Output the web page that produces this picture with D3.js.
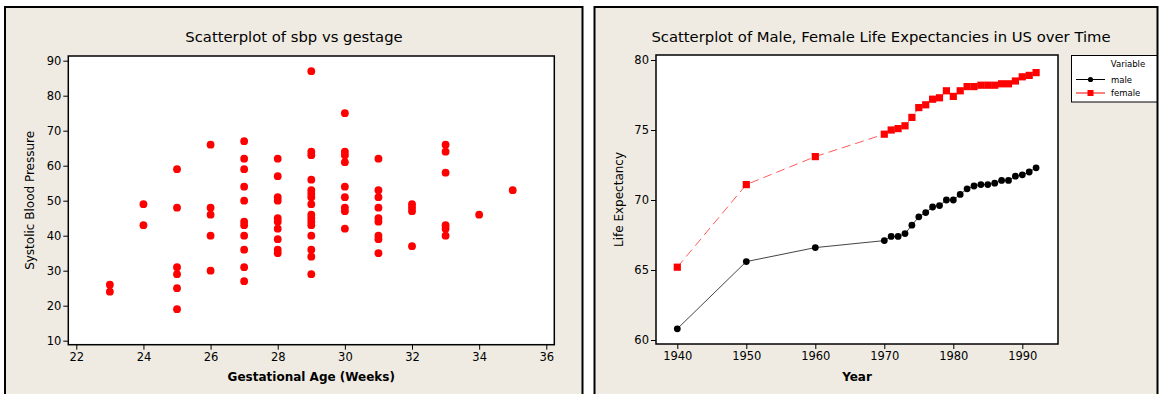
<!DOCTYPE html>
<html>
<head>
<meta charset="utf-8">
<script src="https://cdn.jsdelivr.net/npm/d3@7"></script>
<style>
  html, body { margin: 0; padding: 0; background: #fff; }
  svg { display: block; font-family: "DejaVu Sans", Verdana, sans-serif; }
</style>
</head>
<body>
<svg id="chart" width="1160" height="394"></svg>
<script>
// Systolic blood pressure vs gestational age (weeks)
const gestage = [
  23, 23,
  24, 24,
  25, 25, 25, 25, 25, 25,
  26, 26, 26, 26, 26,
  27, 27, 27, 27, 27, 27, 27, 27, 27, 27, 27,
  28, 28, 28, 28, 28, 28, 28, 28, 28, 28,
  29, 29, 29, 29, 29, 29, 29, 29, 29, 29, 29, 29, 29, 29, 29, 29,
  30, 30, 30, 30, 30, 30, 30, 30, 30,
  31, 31, 31, 31, 31, 31, 31, 31, 31,
  32, 32, 32, 32,
  33, 33, 33, 33, 33, 33,
  34,
  35
];
const sbp = [
  26, 24,
  49, 43,
  59, 48, 31, 29, 25, 19,
  66, 48, 46, 40, 30,
  67, 62, 59, 54, 50, 44, 43, 40, 36, 31, 27,
  62, 57, 51, 50, 45, 44, 42, 39, 36, 35,
  87, 64, 63, 56, 53, 52, 51, 49, 46, 45, 44, 43, 40, 36, 34, 29,
  75, 64, 63, 61, 54, 51, 48, 47, 42,
  62, 53, 51, 48, 45, 44, 40, 39, 35,
  49, 48, 47, 37,
  66, 64, 58, 43, 42, 40,
  46,
  53
];
const gestTicks = [22, 24, 26, 28, 30, 32, 34, 36];
const sbpTicks = [10, 20, 30, 40, 50, 60, 70, 80, 90];

// US life expectancy at birth by year
const years = [1940, 1950, 1960, 1970, 1971, 1972, 1973, 1974, 1975, 1976, 1977, 1978,
  1979, 1980, 1981, 1982, 1983, 1984, 1985, 1986, 1987, 1988, 1989, 1990, 1991, 1992];
const male = [60.8, 65.6, 66.6, 67.1, 67.4, 67.4, 67.6, 68.2, 68.8, 69.1, 69.5, 69.6,
  70.0, 70.0, 70.4, 70.8, 71.0, 71.1, 71.1, 71.2, 71.4, 71.4, 71.7, 71.8, 72.0, 72.3];
const female = [65.2, 71.1, 73.1, 74.7, 75.0, 75.1, 75.3, 75.9, 76.6, 76.8, 77.2, 77.3,
  77.8, 77.4, 77.8, 78.1, 78.1, 78.2, 78.2, 78.2, 78.3, 78.3, 78.5, 78.8, 78.9, 79.1];
const yearTicks = [1940, 1950, 1960, 1970, 1980, 1990];
const lifeTicks = [60, 65, 70, 75, 80];

const svg = d3.select("#chart");
const panelFill = "#efebe2";

// panel backgrounds with borders
svg.append("rect").attr("x", 5).attr("y", 7).attr("width", 577.5).attr("height", 400)
  .attr("fill", panelFill).attr("stroke", "#000").attr("stroke-width", 2);
svg.append("rect").attr("x", 594.5).attr("y", 7).attr("width", 563).attr("height", 400)
  .attr("fill", panelFill).attr("stroke", "#000").attr("stroke-width", 2);

function styleAxis(g) {
  g.select(".domain").remove();
  g.selectAll(".tick line").attr("stroke", "#000");
  g.selectAll(".tick text").attr("font-size", 11.5).attr("fill", "#000")
    .attr("font-family", "DejaVu Sans, Verdana, sans-serif");
}

// ---------- Left: sbp vs gestage ----------
const L = { left: 68.3, right: 554.3, top: 56, bottom: 344.7 };
const xL = d3.scaleLinear().domain([22, 36]).range([76.3, 546.3]);
const yL = d3.scaleLinear().domain([10, 90]).range([340.7, 60.7]);

svg.append("rect").attr("x", L.left).attr("y", L.top)
  .attr("width", L.right - L.left).attr("height", L.bottom - L.top)
  .attr("fill", "#fff").attr("stroke", "#000").attr("stroke-width", 1.5);

svg.append("g").attr("transform", `translate(0,${L.bottom})`)
  .call(d3.axisBottom(xL).tickValues(gestTicks).tickSize(5).tickPadding(3).tickSizeOuter(0))
  .call(styleAxis);
svg.append("g").attr("transform", `translate(${L.left},0)`)
  .call(d3.axisLeft(yL).tickValues(sbpTicks).tickSize(5).tickPadding(2).tickSizeOuter(0))
  .call(styleAxis);

svg.append("g").selectAll("circle").data(d3.range(gestage.length)).join("circle")
  .attr("cx", i => xL(gestage[i])).attr("cy", i => yL(sbp[i]))
  .attr("r", 3.9).attr("fill", "#ff0000");

svg.append("text").attr("x", 294).attr("y", 42).attr("text-anchor", "middle")
  .attr("font-size", 14.8).text("Scatterplot of sbp vs gestage");
svg.append("text").attr("x", (L.left + L.right) / 2).attr("y", 381).attr("text-anchor", "middle")
  .attr("font-size", 12).attr("font-weight", "bold").text("Gestational Age (Weeks)");
svg.append("text").attr("transform", `translate(34,${(L.top + L.bottom) / 2}) rotate(-90)`)
  .attr("text-anchor", "middle").attr("font-size", 12).text("Systolic Blood Pressure");

// ---------- Right: life expectancy over time ----------
const R = { left: 656, right: 1058, top: 55, bottom: 344 };
const xR = d3.scaleLinear().domain([1940, 1990]).range([677.3, 1022.3]);
const yR = d3.scaleLinear().domain([60, 80]).range([340, 60]);

svg.append("rect").attr("x", R.left).attr("y", R.top)
  .attr("width", R.right - R.left).attr("height", R.bottom - R.top)
  .attr("fill", "#fff").attr("stroke", "#000").attr("stroke-width", 1.5);

svg.append("g").attr("transform", `translate(0,${R.bottom})`)
  .call(d3.axisBottom(xR).tickValues(yearTicks).tickFormat(d3.format("d")).tickSize(5).tickPadding(3).tickSizeOuter(0))
  .call(styleAxis);
svg.append("g").attr("transform", `translate(${R.left},0)`)
  .call(d3.axisLeft(yR).tickValues(lifeTicks).tickSize(5).tickPadding(2).tickSizeOuter(0))
  .call(styleAxis);

const idx = d3.range(years.length);
const maleLine = d3.line().x(i => xR(years[i])).y(i => yR(male[i]));
const femaleLine = d3.line().x(i => xR(years[i])).y(i => yR(female[i]));

svg.append("path").attr("d", femaleLine(idx)).attr("fill", "none")
  .attr("stroke", "#ff5a5a").attr("stroke-width", 1).attr("stroke-dasharray", "9,5");
svg.append("path").attr("d", maleLine(idx)).attr("fill", "none")
  .attr("stroke", "#444").attr("stroke-width", 1);

svg.append("g").selectAll("circle").data(idx).join("circle")
  .attr("cx", i => xR(years[i])).attr("cy", i => yR(male[i]))
  .attr("r", 3.4).attr("fill", "#000");
svg.append("g").selectAll("rect").data(idx).join("rect")
  .attr("x", i => xR(years[i]) - 3.6).attr("y", i => yR(female[i]) - 3.6)
  .attr("width", 7.2).attr("height", 7.2).attr("fill", "#ff0000");

svg.append("text").attr("x", 881).attr("y", 42).attr("text-anchor", "middle")
  .attr("font-size", 14.8).text("Scatterplot of Male, Female Life Expectancies in US over Time");
svg.append("text").attr("x", (R.left + R.right) / 2).attr("y", 381).attr("text-anchor", "middle")
  .attr("font-size", 12).attr("font-weight", "bold").text("Year");
svg.append("text").attr("transform", `translate(623,${(R.top + R.bottom) / 2}) rotate(-90)`)
  .attr("text-anchor", "middle").attr("font-size", 12).text("Life Expectancy");

// legend
const lg = svg.append("g");
lg.append("rect").attr("x", 1071.5).attr("y", 55.5).attr("width", 85.5).attr("height", 46.5)
  .attr("fill", "#fff").attr("stroke", "#000").attr("stroke-width", 1);
lg.append("text").attr("x", 1128).attr("y", 67).attr("text-anchor", "middle")
  .attr("font-size", 8.5).text("Variable");
lg.append("line").attr("x1", 1076).attr("x2", 1105).attr("y1", 79.5).attr("y2", 79.5)
  .attr("stroke", "#000").attr("stroke-width", 1);
lg.append("circle").attr("cx", 1090.5).attr("cy", 79.5).attr("r", 2.6).attr("fill", "#000");
lg.append("text").attr("x", 1111).attr("y", 82.5).attr("font-size", 8.5).text("male");
lg.append("line").attr("x1", 1076).attr("x2", 1105).attr("y1", 93).attr("y2", 93)
  .attr("stroke", "#ff0000").attr("stroke-width", 1);
lg.append("rect").attr("x", 1087.5).attr("y", 90).attr("width", 6).attr("height", 6).attr("fill", "#ff0000");
lg.append("text").attr("x", 1111).attr("y", 96).attr("font-size", 8.5).text("female");
</script>
</body>
</html>
